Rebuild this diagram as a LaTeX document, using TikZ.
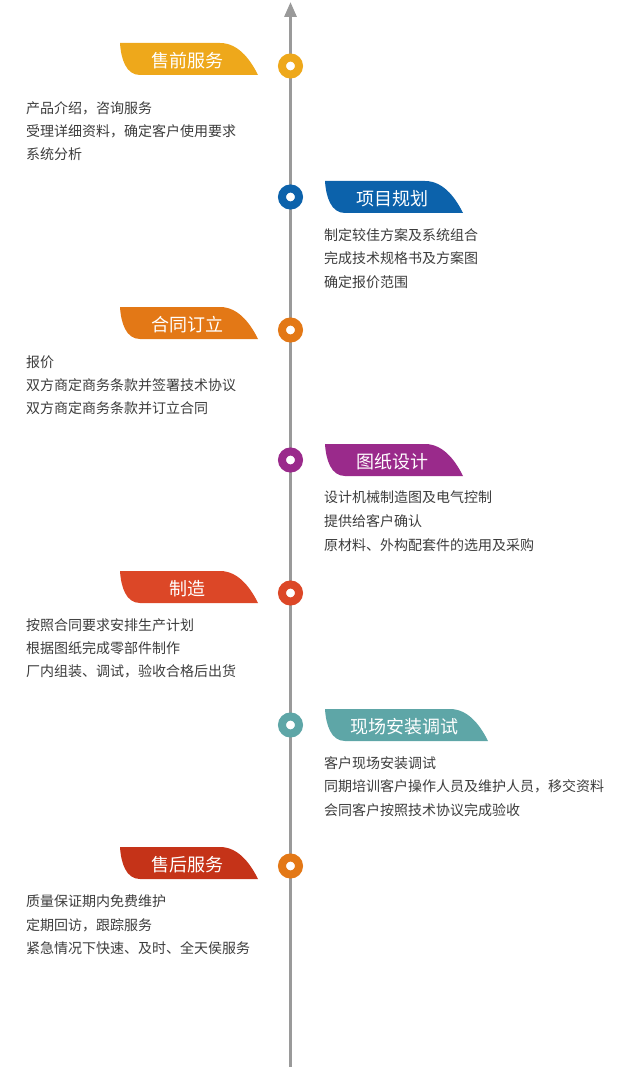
\documentclass[tikz,border=0pt]{standalone}
\usepackage{fontspec}
\setmainfont{Noto Sans CJK SC}
\usetikzlibrary{arrows.meta}

\definecolor{axisgray}{HTML}{9A9A9A}
\definecolor{textgray}{HTML}{3C3C3C}
\definecolor{cGold}{HTML}{EEA81B}
\definecolor{cBlue}{HTML}{0C62AB}
\definecolor{cOrange}{HTML}{E37816}
\definecolor{cPurple}{HTML}{9A2A8B}
\definecolor{cRed}{HTML}{DC4727}
\definecolor{cTeal}{HTML}{5EA6A7}
\definecolor{cDark}{HTML}{C53318}

\begin{document}
\begin{tikzpicture}[x=1pt,y=-1pt,>={Triangle[length=15pt,width=12pt]},
  tabtext/.style={text=white,inner sep=0pt,font=\fontsize{18}{18}\selectfont},
  bodytext/.style={text=textgray,anchor=west,inner sep=0pt,font=\fontsize{14}{14}\selectfont},
  ring/.style={circle,draw=#1,fill=white,line width=8pt,minimum size=17pt,inner sep=0pt}]
  \useasboundingbox (0,0) rectangle (618,1067);
  % time axis
  \coordinate (axisbot) at (290.5,1067);
  \coordinate (axistop) at (290.5,2);
  \draw[->,axisgray,line width=3pt] (axisbot)--(axistop);
  % stages: tab corner, tab width, ring height, colours
  \foreach \n/\tx/\ty/\w/\cy/\col/\dotcol/\lbl in {
      1/120/43/138/66/cGold/cGold/售前服务,
      2/325/181/138/197/cBlue/cBlue/项目规划,
      3/120/307/138/330/cOrange/cOrange/合同订立,
      4/325/444/138/460/cPurple/cPurple/图纸设计,
      5/120/571/138/593/cRed/cRed/制造,
      6/325/709/163/725/cTeal/cTeal/现场安装调试,
      7/120/847/138/866/cDark/cOrange/售后服务} {
    \fill[\col] (\tx,\ty)--(\tx+\w-38,\ty)
      .. controls (\tx+\w-18,\ty) and (\tx+\w-6,\ty+20) .. (\tx+\w,\ty+32)
      --(\tx+20,\ty+32)
      .. controls (\tx+6,\ty+32) and (\tx+1,\ty+16) .. (\tx,\ty)--cycle;
    \node[tabtext] (tab\n) at (\tx+\w/2-2,\ty+17.5) {\lbl};
    \node[ring=\dotcol] (dot\n) at (290.5,\cy) {};
  }
  % descriptions
  \foreach \nm/\x/\y/\t in {
      a1/26/108/产品介绍，咨询服务,
      a2/26/131/受理详细资料，确定客户使用要求,
      a3/26/154/系统分析,
      b1/324/235/制定较佳方案及系统组合,
      b2/324/258/完成技术规格书及方案图,
      b3/324/282/确定报价范围,
      c1/26/362/报价,
      c2/26/385/双方商定商务条款并签署技术协议,
      c3/26/408/双方商定商务条款并订立合同,
      d1/324/497/设计机械制造图及电气控制,
      d2/324/521/提供给客户确认,
      d3/324/545/原材料、外构配套件的选用及采购,
      e1/26/625/按照合同要求安排生产计划,
      e2/26/648/根据图纸完成零部件制作,
      e3/26/671/厂内组装、调试，验收合格后出货,
      f1/324/763/客户现场安装调试,
      f2/324/786/同期培训客户操作人员及维护人员，移交资料,
      f3/324/810/会同客户按照技术协议完成验收,
      g1/26/901/质量保证期内免费维护,
      g2/26/925/定期回访，跟踪服务,
      g3/26/948/紧急情况下快速、及时、全天侯服务}
    \node[bodytext] (\nm) at (\x,\y) {\t};
\end{tikzpicture}
\end{document}
